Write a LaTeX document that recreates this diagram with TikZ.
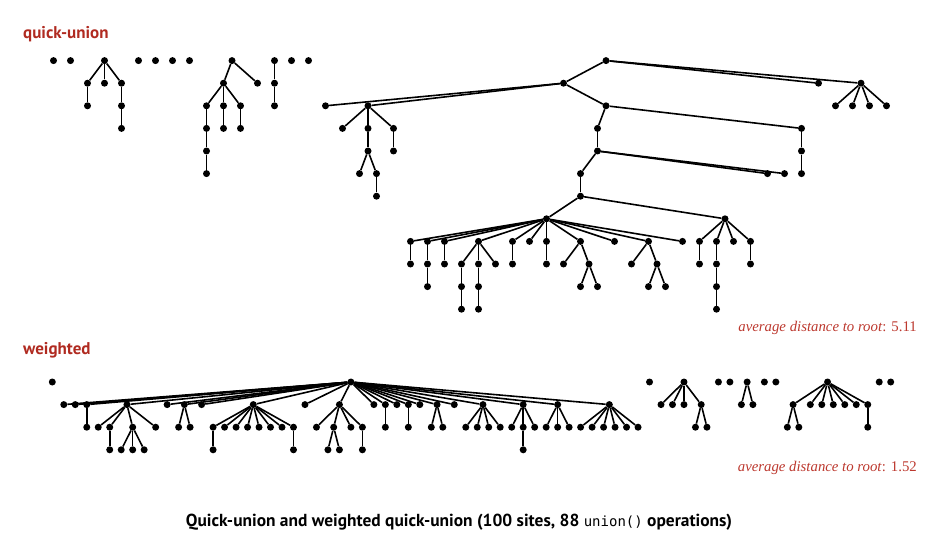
\documentclass[tikz,border=0pt]{standalone}
\usepackage{fontspec}
\setmainfont{Liberation Serif}
\setsansfont{PT Sans}
\setmonofont{DejaVu Sans Mono}
\definecolor{lblred}{RGB}{176,42,32}
\definecolor{avgred}{RGB}{188,56,46}
\begin{document}
\begin{tikzpicture}[x=1pt,y=1pt,
  dot/.style={circle,fill=black,draw=none,inner sep=0pt,minimum size=7pt},
  edge/.style={line width=1.6pt,black},
  lbl/.style={font=\sffamily\bfseries\fontsize{17}{20}\selectfont,text=lblred,inner sep=0pt},
  avg/.style={font=\fontsize{14.8}{17}\selectfont,text=avgred,inner sep=0pt},
  capt/.style={font=\sffamily\bfseries\fontsize{17.4}{20}\selectfont,inner sep=0pt}]
\useasboundingbox (0,0) rectangle (949,-545);

% ---------------- quick-union ----------------
\foreach \kk/\rr in {0/0,1/0,3/0,5/0,6/0,7/0,8/0,13/0,14/0,15/0,
  2/1,3/1,4/1,2/2,4/2,4/3,
  10/1,12/1,9/2,10/2,11/2,9/3,10/3,11/3,9/4,9/5,
  13/1,13/2,
  30/1,45/1,46/2,47/2,48/2,49/2,16/2,
  17/3,20/3,18/5,19/5,19/6,20/4,
  44/3,44/4,44/5,32/3,32/4,42/5,43/5,31/5,31/6,29/7,
  21/8,22/8,23/8,25/8,27/8,28/8,29/8,31/8,33/8,35/8,37/8,
  21/9,22/9,22/10,23/9,24/9,25/9,26/9,24/10,24/11,25/10,25/11,27/9,29/9,30/9,31/10,32/10,34/9,35/10,36/10,
  38/8,39/8,40/8,41/8,38/9,39/9,39/10,39/11,41/9}
  {\node[dot] (q\kk r\rr) at ({53.5+17*\kk},{-60.6-22.6*\rr}) {};}
\foreach \nm/\kk/\rr in {q10hr0/10.5/0,q32hr0/32.5/0,q47hr1/47.5/1,q18hr2/18.5/2,q32hr2/32.5/2,
  q18hr3/18.5/3,q18hr4/18.5/4,q39hr7/39.5/7,q31hr9/31.5/9,q35hr9/35.5/9}
  {\node[dot] (\nm) at ({53.5+17*\kk},{-60.6-22.6*\rr}) {};}

\foreach \a/\b in {q3r0/q2r1,q3r0/q3r1,q3r0/q4r1,q2r1/q2r2,q4r1/q4r2,q4r2/q4r3,
  q10hr0/q10r1,q10hr0/q12r1,q10r1/q9r2,q10r1/q10r2,q10r1/q11r2,q9r2/q9r3,q10r2/q10r3,q11r2/q11r3,q9r3/q9r4,q9r4/q9r5,
  q13r0/q13r1,q13r1/q13r2,
  q32hr0/q30r1,q32hr0/q45r1,q32hr0/q47hr1,
  q47hr1/q46r2,q47hr1/q47r2,q47hr1/q48r2,q47hr1/q49r2,
  q30r1/q16r2,q30r1/q18hr2,q30r1/q32hr2,
  q18hr2/q17r3,q18hr2/q18hr3,q18hr2/q20r3,q18hr3/q18hr4,q18hr4/q18r5,q18hr4/q19r5,q19r5/q19r6,q20r3/q20r4,
  q32hr2/q44r3,q32hr2/q32r3,q44r3/q44r4,q44r4/q44r5,q32r3/q32r4,q32r4/q42r5,q32r4/q43r5,q32r4/q31r5,
  q31r5/q31r6,q31r6/q29r7,q31r6/q39hr7,
  q29r7/q21r8,q29r7/q22r8,q29r7/q23r8,q29r7/q25r8,q29r7/q27r8,q29r7/q28r8,q29r7/q29r8,q29r7/q31r8,q29r7/q33r8,q29r7/q35r8,q29r7/q37r8,
  q21r8/q21r9,q22r8/q22r9,q22r9/q22r10,q23r8/q23r9,q25r8/q24r9,q25r8/q25r9,q25r8/q26r9,
  q24r9/q24r10,q24r10/q24r11,q25r9/q25r10,q25r10/q25r11,q27r8/q27r9,q29r8/q29r9,
  q31r8/q30r9,q31r8/q31hr9,q31hr9/q31r10,q31hr9/q32r10,q35r8/q34r9,q35r8/q35hr9,q35hr9/q35r10,q35hr9/q36r10,
  q39hr7/q38r8,q39hr7/q39r8,q39hr7/q40r8,q39hr7/q41r8,q38r8/q38r9,q39r8/q39r9,q39r9/q39r10,q39r10/q39r11,q41r8/q41r9}
  {\draw[edge] (\a) -- (\b);}

% ---------------- weighted ----------------
\foreach \kk/\rr in {0/0,52/0,58/0,59/0,62/0,63/0,72/0,73/0,26/0,55/0,
  1/1,2/1,3/1,10/1,13/1,22/1,25/1,28/1,29/1,30/1,31/1,32/1,35/1,41/1,44/1,
  3/2,4/2,5/2,7/2,9/2,11/2,12/2,14/2,15/2,16/2,17/2,18/2,19/2,20/2,21/2,
  23/2,26/2,27/2,29/2,31/2,33/2,34/2,36/2,37/2,38/2,39/2,40/2,41/2,42/2,43/2,44/2,45/2,
  46/2,47/2,48/2,49/2,50/2,51/2,
  5/3,6/3,7/3,8/3,14/3,21/3,24/3,25/3,27/3,41/3,
  53/1,54/1,55/1,56/2,57/2,60/1,61/1,66/1,67/1,68/1,69/1,70/1,71/1,64/2,65/2,71/2}
  {\node[dot] (w\kk r\rr) at ({52.3+11.485*\kk},{-382-22.6*\rr}) {};}
\foreach \nm/\kk/\rr in {w60hr0/60.5/0,w67hr0/67.5/0,w6hr1/6.5/1,w11hr1/11.5/1,w17hr1/17.5/1,
  w33hr1/33.5/1,w37hr1/37.5/1,w48hr1/48.5/1,w24hr2/24.5/2,w56hr1/56.5/1,w64hr1/64.5/1}
  {\node[dot] (\nm) at ({52.3+11.485*\kk},{-382-22.6*\rr}) {};}

\foreach \b in {w1r1,w2r1,w3r1,w6hr1,w10r1,w11hr1,w13r1,w17hr1,w22r1,w25r1,w28r1,w29r1,w30r1,
  w31r1,w32r1,w33hr1,w35r1,w37hr1,w41r1,w44r1,w48hr1}
  {\draw[edge] (w26r0) -- (\b);}
\foreach \a/\b in {w3r1/w3r2,w6hr1/w4r2,w6hr1/w5r2,w6hr1/w7r2,w6hr1/w9r2,w5r2/w5r3,
  w7r2/w6r3,w7r2/w7r3,w7r2/w8r3,w11hr1/w11r2,w11hr1/w12r2,
  w17hr1/w14r2,w17hr1/w15r2,w17hr1/w16r2,w17hr1/w17r2,w17hr1/w18r2,w17hr1/w19r2,w17hr1/w20r2,w17hr1/w21r2,
  w14r2/w14r3,w21r2/w21r3,
  w25r1/w23r2,w25r1/w24hr2,w25r1/w26r2,w25r1/w27r2,w24hr2/w24r3,w24hr2/w25r3,w27r2/w27r3,
  w29r1/w29r2,w31r1/w31r2,w33hr1/w33r2,w33hr1/w34r2,
  w37hr1/w36r2,w37hr1/w37r2,w37hr1/w38r2,w37hr1/w39r2,
  w41r1/w40r2,w41r1/w41r2,w41r1/w42r2,w41r2/w41r3,
  w44r1/w43r2,w44r1/w44r2,w44r1/w45r2,
  w48hr1/w46r2,w48hr1/w47r2,w48hr1/w48r2,w48hr1/w49r2,w48hr1/w50r2,w48hr1/w51r2,
  w55r0/w53r1,w55r0/w54r1,w55r0/w55r1,w55r0/w56hr1,w56hr1/w56r2,w56hr1/w57r2,
  w60hr0/w60r1,w60hr0/w61r1,
  w67hr0/w64hr1,w67hr0/w66r1,w67hr0/w67r1,w67hr0/w68r1,w67hr0/w69r1,w67hr0/w70r1,w67hr0/w71r1,
  w64hr1/w64r2,w64hr1/w65r2,w71r1/w71r2}
  {\draw[edge] (\a) -- (\b);}

% ---------------- labels ----------------
\node[lbl,anchor=base west] (tqu) at (23,-38.5) {quick-union};
\node[lbl,anchor=base west] (tw) at (23,-354) {weighted};
\node[avg,anchor=base east] (aqu) at (917,-331) {\textit{average distance to root}: 5.11};
\node[avg,anchor=base east] (aw) at (917,-471) {\textit{average distance to root}: 1.52};
\node[capt,anchor=base] (cap) at (459,-526) {Quick-union and weighted quick-union (100 sites, 88 {\ttfamily\mdseries\fontsize{14}{16}\selectfont union()} operations)};
\end{tikzpicture}
\end{document}
